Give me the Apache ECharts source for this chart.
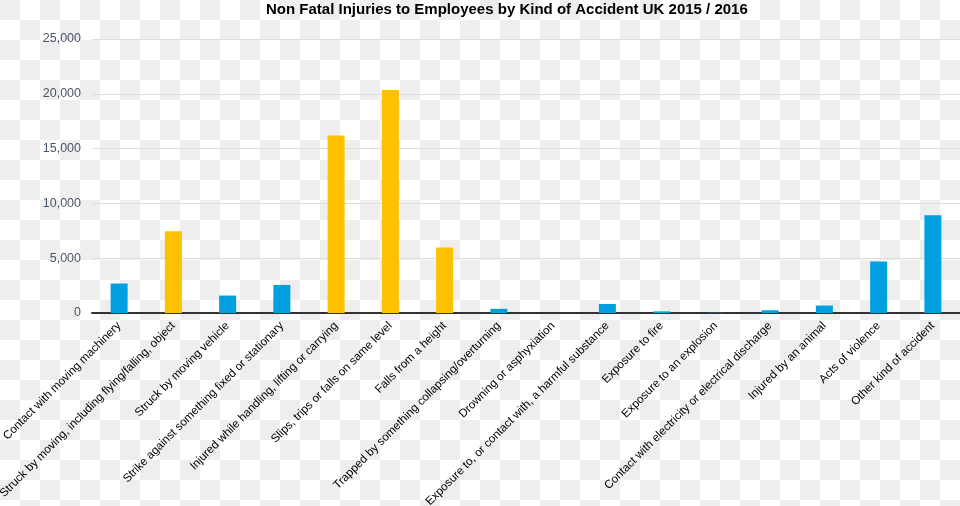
<!DOCTYPE html>
<html>
<head>
<meta charset="utf-8">
<script src="https://cdn.jsdelivr.net/npm/echarts@6/dist/echarts.min.js"></script>
<style>
html,body{margin:0;padding:0;}
body{
  width:960px;height:506px;
  background-color:#ffffff;
  background-image:
    linear-gradient(45deg,#eeeeee 25%,transparent 25%,transparent 75%,#eeeeee 75%),
    linear-gradient(45deg,#eeeeee 25%,transparent 25%,transparent 75%,#eeeeee 75%);
  background-size:40px 40px;
  background-position:20px 0,0 20px;
}
#chart{width:960px;height:506px;}
</style>
</head>
<body>
<div id="chart"></div>
<script>
var titleText = 'Non Fatal Injuries to Employees by Kind of Accident UK 2015 / 2016';
var categories = [
  'Contact with moving machinery',
  'Struck by moving, including flying/falling, object',
  'Struck by moving vehicle',
  'Strike against something fixed or stationary',
  'Injured while handling, lifting or carrying',
  'Slips, trips or falls on same level',
  'Falls from a height',
  'Trapped by something collapsing/overturning',
  'Drowning or asphyxiation',
  'Exposure to, or contact with, a harmful substance',
  'Exposure to fire',
  'Exposure to an explosion',
  'Contact with electricity or electrical discharge',
  'Injured by an animal',
  'Acts of violence',
  'Other kind of accident'
];
var values = [2690, 7460, 1590, 2560, 16190, 20340, 5970, 380, 0, 820, 150, 20, 250, 680, 4690, 8920];
var highlighted = [false, true, false, false, true, true, true, false, false, false, false, false, false, false, false, false];
var yTicks = [0, 5000, 10000, 15000, 20000, 25000];

var blue = '#009FDF', yellow = '#FFC000';
var chart = echarts.init(document.getElementById('chart'), null, {renderer:'canvas'});
chart.setOption({
  backgroundColor: 'transparent',
  animation: false,
  title: {
    text: titleText, left: 261, top: -3,
    textStyle: {fontFamily:'Liberation Sans, Arial', fontSize:15, fontWeight:'bold', color:'#000'}
  },
  grid: {left: 92, right: 0, top: 39, bottom: 193, containLabel: false, outerBoundsMode: 'none'},
  xAxis: {
    type: 'category', data: categories,
    axisLine: {lineStyle: {color:'#333', width:2}},
    axisTick: {show:false},
    axisLabel: {rotate:45, interval:0, margin:11, fontFamily:'Liberation Sans, Arial', fontSize:11.6, color:'#000'}
  },
  yAxis: {
    type: 'value', min: yTicks[0], max: yTicks[yTicks.length-1], interval: 5000,
    axisLine: {show:false}, axisTick: {show:false},
    splitLine: {lineStyle: {color:'#dddddd', width:1}},
    axisLabel: {
      margin: 11, fontFamily:'Liberation Sans, Arial', fontSize:12.5, color:'#4a5568',
      formatter: function(v){ return v.toLocaleString('en-US'); }
    }
  },
  series: [{
    type: 'bar', barWidth: 17,
    data: values.map(function(v,i){ return {value:v, itemStyle:{color: highlighted[i] ? yellow : blue}}; })
  }]
});
</script>
</body>
</html>
